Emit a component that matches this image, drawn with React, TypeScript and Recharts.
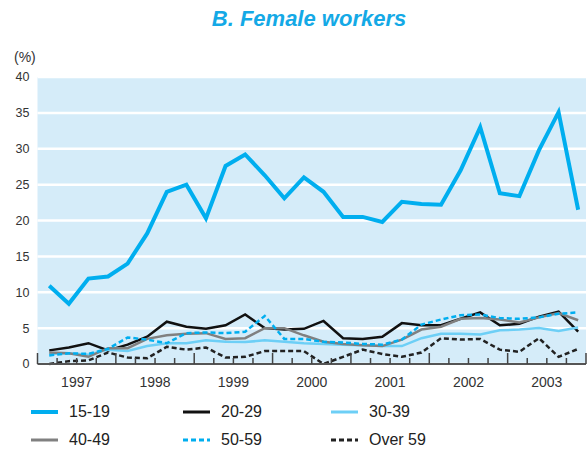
import React from "react";
import { LineChart, Line, XAxis, YAxis, CartesianGrid } from "recharts";

// quarterly series, 1997 Q1 .. 2003 Q4
const years = ["1997", "1998", "1999", "2000", "2001", "2002", "2003"];
const quarters = ["Q1", "Q2", "Q3", "Q4"];

const age1519 = [10.9, 8.4, 11.9, 12.2, 14.0, 18.2, 24.0, 25.0, 20.3, 27.6, 29.2, 26.3, 23.1, 26.0, 24.0, 20.5, 20.5, 19.8, 22.6, 22.3, 22.2, 27.0, 33.0, 23.8, 23.4, 29.8, 35.1, 21.5];
const age2029 = [1.9, 2.3, 2.9, 1.9, 2.7, 3.8, 5.9, 5.2, 4.9, 5.4, 6.9, 5.0, 4.8, 4.9, 6.0, 3.6, 3.5, 3.8, 5.7, 5.4, 5.4, 6.3, 7.2, 5.4, 5.6, 6.6, 7.3, 4.5];
const age3039 = [1.4, 1.5, 1.3, 2.0, 1.8, 2.5, 2.9, 2.9, 3.3, 3.1, 3.05, 3.3, 3.1, 2.9, 2.8, 2.7, 2.6, 2.5, 2.5, 3.6, 4.2, 4.2, 4.1, 4.7, 4.8, 5.0, 4.6, 5.1];
const age4049 = [1.6, 1.5, 1.0, 2.2, 2.2, 3.5, 4.0, 4.2, 4.3, 3.5, 3.6, 5.0, 5.0, 4.0, 3.1, 2.8, 2.6, 2.5, 3.4, 4.8, 5.2, 6.3, 6.4, 6.2, 5.8, 6.5, 7.1, 6.1];
const age5059 = [1.2, 1.5, 1.4, 2.1, 3.7, 3.4, 2.9, 4.3, 4.4, 4.3, 4.5, 6.7, 3.5, 3.5, 3.1, 3.0, 2.8, 2.7, 3.4, 5.5, 6.2, 6.8, 6.9, 6.4, 6.3, 6.5, 7.0, 7.2];
const over59 = [0.0, 0.4, 0.5, 1.6, 0.9, 0.8, 2.4, 2.0, 2.3, 0.9, 1.0, 1.8, 1.8, 1.8, 0.0, 1.0, 2.0, 1.4, 1.0, 1.6, 3.6, 3.4, 3.5, 2.0, 1.7, 3.6, 1.0, 2.1];

const yTicks = [0, 5, 10, 15, 20, 25, 30, 35, 40];

const series = [
  { key: "a1519", name: "15-19", values: age1519, color: "#00aeef", width: 4, dash: undefined },
  { key: "a2029", name: "20-29", values: age2029, color: "#111111", width: 2.5, dash: undefined },
  { key: "a3039", name: "30-39", values: age3039, color: "#6dcff6", width: 2.5, dash: undefined },
  { key: "a4049", name: "40-49", values: age4049, color: "#808080", width: 2.5, dash: undefined },
  { key: "a5059", name: "50-59", values: age5059, color: "#00aeef", width: 2.5, dash: "5 3" },
  { key: "o59", name: "Over 59", values: over59, color: "#222222", width: 2.5, dash: "5 3" },
];

const periods = years.flatMap((y) => quarters.map((q) => `${y} ${q}`));

const data = periods.map((p, i) => {
  const row: Record<string, number | string> = { period: p, t: i + 0.6 };
  series.forEach((s) => {
    row[s.key] = s.values[i];
  });
  return row;
});

const quarterTicks = Array.from({ length: periods.length + 1 }, (_, i) => i);

const FONT = "'Liberation Sans', Arial, Helvetica, sans-serif";

function QuarterTick(props: any) {
  const { x, y, payload } = props;
  const t = payload.value as number;
  const yearMark = t % 4 === 0;
  const label = t % 4 === 2 ? years[(t - 2) / 4] : null;
  return (
    <g>
      <line x1={x} x2={x} y1={y} y2={y - (yearMark ? 11 : 6)} stroke="#444" strokeWidth={1.5} />
      {label && (
        <text x={x} y={y + 23} textAnchor="middle" fill="#333" fontSize={14} fontFamily={FONT}>
          {label}
        </text>
      )}
    </g>
  );
}

export default function App() {
  const legendCols = [31, 183, 331];
  const legendRows = [412, 440];
  return (
    <div style={{ position: "absolute", left: 0, top: 0, width: 587, height: 450, background: "#fff", fontFamily: FONT }}>
      <div
        style={{
          position: "absolute",
          left: 0,
          width: 618,
          top: 6,
          textAlign: "center",
          color: "#14a9e6",
          fontWeight: "bold",
          fontStyle: "italic",
          fontSize: 22,
        }}
      >
        B. Female workers
      </div>
      <div style={{ position: "absolute", left: 14, top: 49, fontSize: 14, color: "#333" }}>(%)</div>
      <LineChart
        width={587}
        height={450}
        data={data}
        margin={{ top: 77, right: 1, left: 0, bottom: 46 }}
      >
        <CartesianGrid
          vertical={false}
          fill="#d5ecf9"
          fillOpacity={1}
          stroke="#ffffff"
          strokeWidth={2.5}
        />
        <XAxis
          dataKey="t"
          type="number"
          domain={[0, periods.length]}
          ticks={quarterTicks}
          interval={0}
          tickSize={0}
          tickMargin={0}
          tickLine={false}
          axisLine={{ stroke: "#555", strokeWidth: 2 }}
          tick={<QuarterTick />}
          height={40}
        />
        <YAxis
          domain={[0, 40]}
          ticks={yTicks}
          interval={0}
          width={37.5}
          axisLine={false}
          tickLine={false}
          tick={{ fill: "#333", fontSize: 12.5, fontFamily: FONT }}
        />
        {series.map((s) => (
          <Line
            key={s.key}
            dataKey={s.key}
            type="linear"
            stroke={s.color}
            strokeWidth={s.width}
            strokeDasharray={s.dash}
            dot={false}
            activeDot={false}
            isAnimationActive={false}
          />
        ))}
      </LineChart>
      {series.map((s, i) => {
        const left = legendCols[i % 3];
        const top = legendRows[Math.floor(i / 3)];
        return (
          <div key={s.key} style={{ position: "absolute", left, top: top - 10 }}>
            <svg width={28} height={20} style={{ position: "absolute", left: 0, top: 0 }}>
              <line
                x1={0}
                x2={27}
                y1={10}
                y2={10}
                stroke={s.color}
                strokeWidth={s.width === 4 ? 4 : 3}
                strokeDasharray={s.dash ? "5 3" : undefined}
              />
            </svg>
            <span style={{ position: "absolute", left: 38, top: 0, fontSize: 16, lineHeight: "20px", color: "#222", whiteSpace: "nowrap" }}>
              {s.name}
            </span>
          </div>
        );
      })}
    </div>
  );
}
